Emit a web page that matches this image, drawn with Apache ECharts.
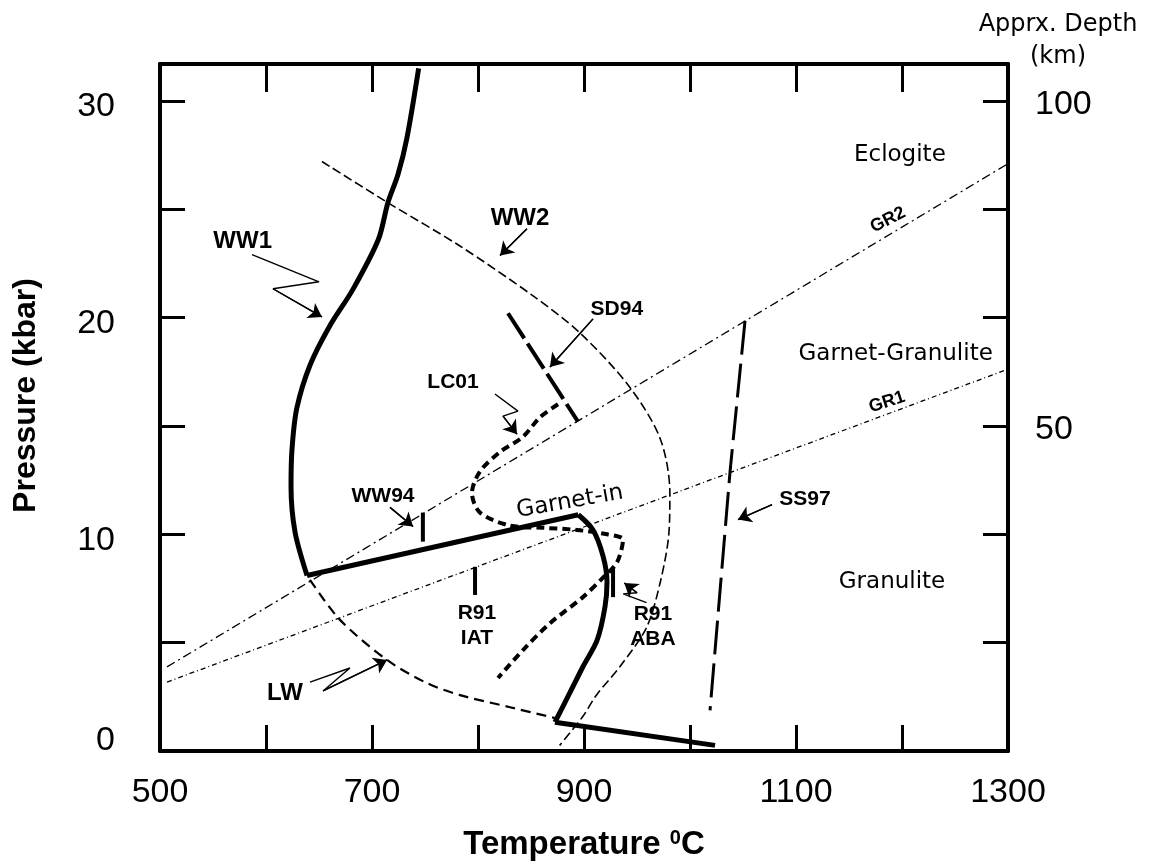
<!DOCTYPE html>
<html lang="en">
<head>
<meta charset="UTF-8">
<title>Garnet-in P-T diagram</title>
<script src="https://cdn.jsdelivr.net/npm/echarts@6/dist/echarts.min.js"></script>
<style>
    *{margin:0;padding:0;}
    body{background:#fff;overflow:hidden;}
    #main{width:1159px;height:865px;}
</style>
</head>
<body>
<div id="main"></div>
<script>
    // axis ticks / labels
    var tempTicks = [600, 700, 800, 900, 1000, 1100, 1200];
    var tempLabels = [500, 700, 900, 1100, 1300];
    var presTicks = [5, 10, 15, 20, 25, 30];
    var presLabels = [0, 10, 20, 30];
    var depthLabels = [15, 30];          // kbar position of 50 / 100 km

    // curves [T (C), P (kbar)]
    var ww1Upper = [[744,31.5],[733,28.3],[724.5,26.6],[715,25.3],[706,23.6],[682,21.3],[660,19.6],[641.5,17.8],[629,15.8],[624.5,13.9],[623.6,12.2],[627.4,10.1],[638.7,8.1]];
    var ww1Garnet = [[638.7,8.1],[894.6,10.9]];
    var ww1Lower = [[894.6,10.9],[908.5,10.2],[917.9,9.0],[921.7,7.8],[919.8,6.65],[912.3,5.1],[899.1,3.9],[886.8,2.7],[872.6,1.33]];
    var ww1Base = [[872.6,1.33],[1023.6,0.26]];
    var ww2 = [[652.8,27.2],[715,25.3],[783,23.3],[852,21.0],[896,19.3],[943,16.8],[972,14.4],[981,11.9],[980,10.0],[972,7.8],[959,5.7],[934,3.9],[912,2.6],[899,1.6],[877,0.26]];
    var lw = [[641.5,7.9],[669.8,6.05],[714.2,4.2],[751.9,3.13],[783,2.58],[830.2,2.02],[874.5,1.5]];
    var lc01 = [[875.5,16.0],[858.5,15.4],[842.5,14.5],[820.8,13.8],[801.9,12.9],[794.3,11.9],[801.9,11.0],[830.2,10.4],[861.3,10.3],[893.4,10.2],[921.7,10.0],[936.8,9.75],[931.1,8.7],[917.9,8.0],[899,7.1],[868,5.9],[842.5,4.66],[818.9,3.37]];
    var sd94 = [[828.3,20.2],[894.3,15.2]];
    var ss97 = [[1051.9,19.85],[1037.7,12.85],[1018.9,1.88]];
    var gr1 = [[506.6,3.18],[1300,17.62]];
    var gr2 = [[506.6,3.88],[1300,27.1]];

    // short experimental bars
    var ww94Bar = [[748,11.0],[748,9.66]];
    var r91IatBar = [[797.2,8.5],[797.2,7.2]];
    var r91AbaBar = [[927.4,8.5],[927.4,7.1]];

    // pointer arrows (last point = tip)
    var ww1Arrow = [[586.8,22.9],[650,21.65],[606.6,21.33],[652.8,20.03]];
    var ww2Arrow = [[846.2,24.1],[820.8,22.86]];
    var sd94Arrow = [[908.5,19.94],[867.9,17.72]];
    var lc01Arrow = [[816,16.47],[837.7,15.68],[823.6,15.45],[836.8,14.62]];
    var ww94Arrow = [[717,11.24],[738.7,10.36]];
    var r91AbaArrow = [[959,6.85],[937,7.25],[950,7.3],[938,7.75]];
    var lwArrow = [[641.5,3.18],[679.2,3.83],[653.8,2.77],[714.2,4.2]];
    var ss97Arrow = [[1077.4,11.37],[1045.3,10.68]];

    // text labels [text, T, P]
    var curveNamesBig = [['WW1',578,23.5],['WW2',839.6,24.57],['LW',617.9,2.67]];
    var curveNamesSmall = [['SD94',931,20.4],['LC01',776.4,17.0],['WW94',710.4,11.75],['R91\nIAT',799,5.8],['R91\nABA',965,5.75],['SS97',1108.5,11.6]];
    var gradientNames = [['GR2',1186.8,24.5],['GR1',1185.8,16.1]];
    var fieldNames = [['Eclogite',1198,27.5],['Garnet-Granulite',1194,18.3],['Granulite',1190.6,7.8],['Garnet-in',886.8,11.5]];

    var labelRotate = {'GR2': 27, 'GR1': 18, 'Garnet-in': 10};

    function curve(data, width, dash, smooth) {
        return {
            type: 'line', data: data, symbol: 'none', silent: true,
            smooth: smooth ? 0.3 : false,
            lineStyle: {color: '#000', width: width, type: dash || 'solid', cap: 'butt'},
            z: 3
        };
    }

    function arrow(data) {
        var n = data.length;
        return {
            type: 'line', data: data, symbol: 'none', silent: true,
            lineStyle: {color: '#000', width: 1.4},
            markLine: {
                silent: true, animation: false,
                symbol: ['none', 'arrow'], symbolSize: 13,
                label: {show: false},
                lineStyle: {color: '#000', width: 1.4, type: 'solid'},
                data: [[{coord: data[n - 2]}, {coord: data[n - 1]}]]
            },
            z: 4
        };
    }

    function labels(list, font, size, weight) {
        return {
            type: 'scatter', symbolSize: 0, silent: true,
            itemStyle: {color: '#000', opacity: 1},
            data: list.map(function (l) {
                return {
                    name: l[0], value: [l[1], l[2]],
                    label: {rotate: labelRotate[l[0]] || 0}
                };
            }),
            label: {
                show: true, position: [0, 0], align: 'center', verticalAlign: 'middle',
                formatter: '{b}', color: '#000', opacity: 1, textBorderWidth: 0,
                fontFamily: font, fontSize: size, fontWeight: weight,
                lineHeight: size + 4
            },
            z: 5
        };
    }

    var axisLine = {show: true, onZero: false, lineStyle: {color: '#000', width: 4}};
    var tickStyle = {color: '#000', width: 3};
    var sans = 'Liberation Sans';

    var myChart = echarts.init(document.getElementById('main'));

    var option = {
        animation: false,
        backgroundColor: '#fff',
        grid: {left: 160, right: 151, top: 64, bottom: 114, outerBoundsMode: 'none'},
        xAxis: [
            {
                type: 'value', min: 500, max: 1300, position: 'bottom',
                axisLine: axisLine,
                axisTick: {show: true, inside: true, length: 26, lineStyle: tickStyle, customValues: tempTicks},
                axisLabel: {
                    customValues: tempLabels, fontSize: 34, color: '#000', fontFamily: sans, margin: 25,
                    formatter: function (v) { return String(v); }
                },
                splitLine: {show: false},
                name: 'Temperature {sup|0}C', nameLocation: 'middle', nameGap: 77,
                nameTextStyle: {
                    fontSize: 33, fontWeight: 'bold', color: '#000', fontFamily: sans,
                    rich: {sup: {fontSize: 20, fontWeight: 'bold', color: '#000', fontFamily: sans, verticalAlign: 'top', padding: [0, 0, 12, 0]}}
                }
            },
            {
                type: 'value', min: 500, max: 1300, position: 'top',
                axisLine: axisLine,
                axisTick: {show: true, inside: true, length: 28, lineStyle: tickStyle, customValues: tempTicks},
                axisLabel: {show: false},
                splitLine: {show: false}
            }
        ],
        yAxis: [
            {
                type: 'value', min: 0, max: 31.7, position: 'left',
                axisLine: axisLine,
                axisTick: {show: true, inside: true, length: 25, lineStyle: tickStyle, customValues: presTicks},
                axisLabel: {
                    customValues: presLabels, fontSize: 34, color: '#000', fontFamily: sans, margin: 45,
                    formatter: function (v) { return v === 0 ? '{z|0}' : '{n|' + v + '}'; },
                    rich: {
                        n: {fontSize: 34, color: '#000', fontFamily: sans, padding: [12, 0, 0, 0]},
                        z: {fontSize: 34, color: '#000', fontFamily: sans, padding: [0, 0, 20, 0]}
                    }
                },
                splitLine: {show: false},
                name: 'Pressure (kbar)', nameLocation: 'middle', nameGap: 118,
                nameTextStyle: {fontSize: 32, fontWeight: 'bold', color: '#000', fontFamily: sans, padding: [0, 0, 0, 24]}
            },
            {
                type: 'value', min: 0, max: 31.7, position: 'right',
                axisLine: axisLine,
                axisTick: {show: true, inside: true, length: 25, lineStyle: tickStyle, customValues: presTicks},
                axisLabel: {
                    customValues: depthLabels, fontSize: 34, color: '#000', fontFamily: sans, margin: 27,
                    formatter: function (v) { return '{d|' + Math.round(v * 10 / 3) + '}'; },
                    rich: {d: {fontSize: 34, color: '#000', fontFamily: sans, padding: [8, 0, 0, 0]}}
                },
                splitLine: {show: false}
            }
        ],
        graphic: [{
            type: 'text', x: 1058, y: 41,
            style: {
                text: 'Apprx. Depth\n(km)', fill: '#000', fontSize: 24, fontFamily: 'DejaVu Sans',
                lineHeight: 32, align: 'center', verticalAlign: 'middle',
                textAlign: 'center', textVerticalAlign: 'middle'
            }
        }],
        series: [
            curve(gr2, 1.3, [9, 4, 2, 4]),
            curve(gr1, 1.3, [5, 3, 1, 3]),
            curve(ww2, 1.6, [9, 4], true),
            curve(lw, 2.2, [10, 6], true),
            curve(lc01, 4, [8, 5], true),
            curve(sd94, 4, [30, 6]),
            curve(ss97, 3, [34, 9]),
            curve(ww1Upper, 5, 'solid', true),
            curve(ww1Garnet, 5),
            curve(ww1Lower, 5, 'solid', true),
            curve(ww1Base, 5),
            curve(ww94Bar, 4),
            curve(r91IatBar, 4),
            curve(r91AbaBar, 4),
            arrow(ww1Arrow),
            arrow(ww2Arrow),
            arrow(sd94Arrow),
            arrow(lc01Arrow),
            arrow(ww94Arrow),
            arrow(r91AbaArrow),
            arrow(lwArrow),
            arrow(ss97Arrow),
            labels(curveNamesBig, sans, 24, 'bold'),
            labels(curveNamesSmall, sans, 21, 'bold'),
            labels(gradientNames, sans, 18, 'bold'),
            labels(fieldNames, 'DejaVu Sans', 23, 'normal')
        ]
    };

    myChart.setOption(option);
    window.onresize = myChart.resize;
</script>
</body>
</html>
